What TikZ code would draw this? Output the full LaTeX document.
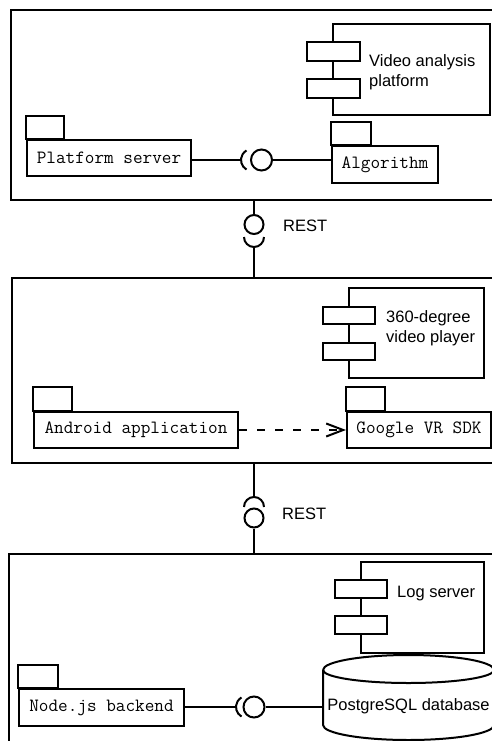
\documentclass[tikz,border=0pt]{standalone}
\usepackage{fontspec}
\setmainfont{Liberation Sans}
\usetikzlibrary{arrows.meta}
\begin{document}
\begin{tikzpicture}[x=1bp,y=-1bp,
  ln/.style={line width=2bp},
  frame/.style={draw, ln, inner sep=0, anchor=north west},
  pkg/.style={draw, ln, inner sep=0, font=\ttfamily\fontsize{18.7bp}{20bp}\selectfont},
  comp/.style={draw, ln, inner sep=0},
  port/.style={draw, ln, fill=white, inner sep=0},
  lbl/.style={font=\fontsize{16.5bp}{19bp}\selectfont, inner sep=0},
  ball/.style={draw, ln, circle, inner sep=0}]
\useasboundingbox (0,0) rectangle (492,741);
\clip (0,0) rectangle (492,741);

% frames
\node[frame, minimum width=490bp, minimum height=190bp] (f1) at (10,9) {};
\node[frame, minimum width=490bp, minimum height=185bp] (f2) at (11,277) {};
\node[frame, minimum width=500bp, minimum height=250bp] (f3) at (8,553) {};

% top frame
\node[comp, minimum width=157bp, minimum height=91bp] (va) at (411.5,69.5) {};
\node[port, minimum width=53bp, minimum height=19bp] (va1) at (333.5,51.5) {};
\node[port, minimum width=53bp, minimum height=19bp] (va2) at (333.5,88.5) {};
\node[lbl, anchor=base west] (vat1) at (369,67) {Video analysis};
\node[lbl, anchor=base west] (vat2) at (369,86) {platform};

\node[pkg, minimum width=164bp, minimum height=36bp] (ps) at (109,158) {Platform server};
\draw[ln] (ps.north west) rectangle ++(38,-23);
\node[pkg, minimum width=106bp, minimum height=37bp] (alg) at (385,164.5) {Algorithm};
\draw[ln] (alg.north west) rectangle ++(40,-23);

\coordinate (s3) at (252,160);
\coordinate (s3l) at (241,160);
\node[ball, minimum size=21bp] (b3) at (261.5,160) {};
\draw[ln] (ps.east |- s3l) -- (s3l);
\draw[ln] (s3) ++(120:11) arc[start angle=120, end angle=240, radius=11];
\draw[ln] (b3.east) -- (b3 -| alg.west);

% REST 1
\node[ball, minimum size=19bp] (b1) at (254,224.5) {};
\coordinate (s1) at (254,237);
\coordinate (s1b) at (254,247);
\draw[ln] (b1 |- f1.south) -- (b1.north);
\draw[ln] (s1) ++(180:10) arc[start angle=180, end angle=0, radius=10];
\draw[ln] (s1b) -- (s1b |- f2.north);
\node[lbl, anchor=west] (r1) at (283,226) {REST};

% middle frame
\node[comp, minimum width=135bp, minimum height=90bp] (vp) at (416.5,333) {};
\node[port, minimum width=52bp, minimum height=17bp] (vp1) at (349,315.5) {};
\node[port, minimum width=52bp, minimum height=17bp] (vp2) at (349,351.5) {};
\node[lbl, anchor=base west] (vpt1) at (386,322) {360-degree};
\node[lbl, anchor=base west] (vpt2) at (386,342) {video player};

\node[pkg, minimum width=204bp, minimum height=36bp] (aa) at (136,430) {Android application};
\draw[ln] (aa.north west) rectangle ++(39,-24);
\node[pkg, minimum width=144bp, minimum height=36bp] (gvr) at (419,430) {Google VR SDK};
\draw[ln] (gvr.north west) rectangle ++(39,-24);
\draw[ln, dash pattern=on 8bp off 10bp, -{Straight Barb[length=17bp,width=13bp]}] (aa.east) -- (gvr.west);

% REST 2
\coordinate (s2) at (254,507);
\coordinate (s2t) at (254,497);
\node[ball, minimum size=19bp] (b2) at (254,518) {};
\draw[ln] (s2t |- f2.south) -- (s2t);
\draw[ln] (s2) ++(180:10) arc[start angle=180, end angle=360, radius=10];
\draw[ln] (b2.south) -- (b2 |- f3.north);
\node[lbl, anchor=west] (r2) at (282,514) {REST};

% bottom frame
\node[comp, minimum width=123bp, minimum height=91bp] (ls) at (422.5,607.5) {};
\node[port, minimum width=52bp, minimum height=18bp] (ls1) at (361,589) {};
\node[port, minimum width=52bp, minimum height=18bp] (ls2) at (361,625) {};
\node[lbl, anchor=base west] (lst) at (397,597) {Log server};

\draw[ln] (323,670) -- (323,725) arc[start angle=180, end angle=0, x radius=85.5, y radius=15] -- (494,670) arc[start angle=360, end angle=180, x radius=85.5, y radius=15];
\draw[ln] (323,670) arc[start angle=180, end angle=0, x radius=85.5, y radius=13];
\node[lbl] (db) at (408.5,706) {PostgreSQL database};
\coordinate (dbw) at (323,707);

\node[pkg, minimum width=165bp, minimum height=37bp] (nb) at (101.5,707.5) {Node.js backend};
\draw[ln] (nb.north west) rectangle ++(40,-23);

\coordinate (s4) at (247,707);
\coordinate (s4l) at (236,707);
\node[ball, minimum size=21bp] (b4) at (254,707) {};
\draw[ln] (nb.east |- s4l) -- (s4l);
\draw[ln] (s4) ++(120:11) arc[start angle=120, end angle=240, radius=11];
\draw[ln] (b4.east) -- (dbw);
\end{tikzpicture}
\end{document}
